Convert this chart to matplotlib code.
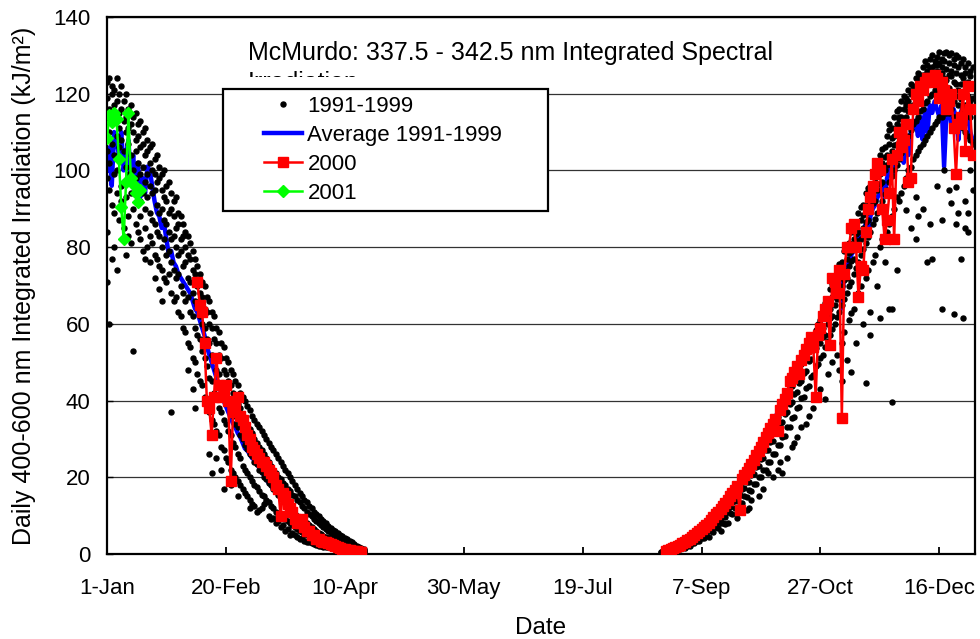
import matplotlib
matplotlib.use('Agg')
import matplotlib.pyplot as plt
from matplotlib.patches import Rectangle

plt.rcParams['font.family'] = ['Liberation Sans', 'DejaVu Sans']

# ---------------- data ----------------
tick_days = [0, 50, 100, 150, 200, 250, 300, 350]
tick_labels = ['1-Jan', '20-Feb', '10-Apr', '30-May', '19-Jul', '7-Sep', '27-Oct', '16-Dec']
y_ticks = [0, 20, 40, 60, 80, 100, 120, 140]

title_line1 = 'McMurdo: 337.5 - 342.5 nm Integrated Spectral'
title_line2 = 'Irradiation'

# 1991-1999 daily values, one list per day (Jan-Apr starting at day 0)
dots_left_start = 0
dots_left = [
    [123, 119, 114, 105, 98, 84, 71], [124, 116, 110, 102, 95, 60], [122, 120, 112, 107, 91, 77],
    [121, 117, 113, 104, 99, 89, 80], [124, 118, 109, 100, 94, 74], [120, 115, 111, 106, 87],
    [122, 116, 108, 103, 96, 92], [118, 113, 105, 97, 85], [120, 114, 110, 101, 93, 78],
    [116, 111, 107, 99, 88, 83], [117, 112, 104, 94, 81], [114, 110, 100, 96, 90, 53],
    [115, 108, 105, 98, 86], [112, 109, 102, 95, 84], [113, 106, 99, 92, 88, 82],
    [110, 107, 101, 94, 79], [111, 104, 97, 90, 85, 77], [108, 105, 99, 93, 80],
    [106, 102, 96, 89, 83, 76], [107, 100, 94, 87, 81], [103, 99, 95, 86, 78, 72],
    [104, 97, 91, 84, 77], [101, 98, 89, 83, 75, 69], [99, 95, 90, 80, 74, 66],
    [100, 93, 87, 82, 72], [96, 92, 86, 78, 71], [97, 89, 84, 79, 73],
    [94, 90, 82, 76, 68, 37], [92, 88, 83, 74, 66], [93, 85, 80, 72, 67],
    [89, 86, 78, 73, 63], [88, 82, 79, 70, 62], [86, 83, 75, 68, 59],
    [84, 80, 76, 66, 58], [83, 78, 72, 67, 55, 48], [81, 77, 71, 63, 54],
    [79, 74, 68, 62, 51, 43], [77, 73, 66, 59, 50, 38], [75, 70, 65, 57, 47],
    [73, 68, 62, 56, 45], [71, 67, 60, 53, 44], [70, 64, 59, 51, 41],
    [67, 63, 56, 49, 40], [66, 60, 55, 46, 37, 26], [63, 59, 52, 45, 35, 21],
    [62, 56, 51, 42, 34], [59, 55, 48, 41, 32, 25], [58, 52, 47, 38, 31],
    [55, 51, 44, 37, 28, 22], [54, 48, 43, 35, 27, 17], [51, 47, 40, 34, 25],
    [50, 45, 39, 32, 24], [48, 44, 37, 31, 22, 18], [47, 42, 36, 29, 21],
    [45, 41, 34, 28, 20], [44, 39, 33, 26, 19, 15], [42, 38, 31, 25, 18],
    [41, 36, 30, 23, 17], [40, 35, 28.5, 22, 16], [38.5, 33.5, 27.5, 21, 15],
    [37.5, 32.5, 26, 20, 14, 12], [36, 31.5, 25.5, 19, 13], [35, 30, 24, 18, 12.5],
    [34, 29, 23.5, 17.5, 11], [33, 28, 22, 16.5, 11.5], [32, 27, 21.5, 15.5, 12],
    [31, 26, 20, 15, 13], [30, 25, 19.5, 14, 13.5], [29, 24, 18.5, 13.5, 10],
    [28, 23, 18, 12.5, 9], [27, 22, 17, 12, 9.5], [26, 21, 16.5, 11, 8],
    [25, 20, 15.5, 10.5, 8.5], [24, 19.5, 15, 10, 7], [23, 18.5, 14, 9.5, 7.5],
    [22, 18, 13.5, 9, 6], [21, 17, 12.5, 8.5, 6.5], [20, 16.5, 12, 8, 5],
    [19, 15.5, 11, 7.5, 5.5], [18, 15, 10.5, 7, 5], [17, 14, 10, 6.5, 4.5],
    [16, 13.5, 9.5, 6, 4], [15, 12.5, 9, 5.8, 4.2], [14, 12, 8.5, 5.5, 3.5],
    [13.5, 11, 8, 5, 3.2], [12.5, 10.5, 7.5, 4.6, 3], [12, 9.8, 7, 4.2, 2.8],
    [11, 9.2, 6.4, 4, 2.6], [10.5, 8.6, 6, 3.8, 2.4], [9.8, 8, 5.5, 3.5, 2.2],
    [9.2, 7.5, 5.2, 3.2, 2], [8.5, 7, 4.8, 3, 1.9], [8, 6.5, 4.5, 2.8, 1.8],
    [7.4, 6, 4.2, 2.6, 1.7], [6.9, 5.6, 3.9, 2.4, 1.6], [6.3, 5.2, 3.6, 2.2, 1.5],
    [5.9, 4.8, 3.3, 2, 1.4], [5.4, 4.4, 3, 1.9, 1.3], [5, 4.1, 2.8, 1.8, 1.2],
    [4.6, 3.7, 2.6, 1.7, 1.1], [4.2, 3.4, 2.4, 1.6, 1], [3.8, 3.1, 2.2, 1.5, 0.9],
    [3.4, 2.8, 2, 1.4, 0.8], [3, 2.5, 1.8, 1.3, 0.7], [2.6, 2.2, 1.6, 1.1, 0.6],
    [2.2, 1.9, 1.4, 1, 0.5], [1.8, 1.6, 1.2, 0.9, 0.5], [1.5, 1.3, 1, 0.8, 0.4],
    [1.2, 1, 0.8, 0.6, 0.4],
]

# 1991-1999 daily values, Aug-Dec starting at day 233
dots_right_start = 233
dots_right = [
    [0.6, 0.4], [0.8, 0.5], [0.9, 0.6], [1.1, 0.7, 0.5], [1.2, 1.0, 0.6],
    [1.5, 1.0, 0.8], [1.7, 1.4, 0.9], [2.1, 1.5, 1.2], [2.3, 1.9, 1.2], [2.7, 2.0, 1.6],
    [3.0, 2.5, 1.6], [3.5, 2.7, 2.1], [3.8, 3.2, 2.2], [4.3, 3.4, 2.8], [4.7, 4.0, 2.8],
    [5.3, 4.2, 3.5], [5.7, 4.8, 3.4], [6.3, 5.1, 4.3], [6.8, 5.8, 4.1], [7.4, 6.0, 5.2],
    [7.9, 6.8, 4.4], [8.6, 7.0, 6.0], [9.2, 7.9, 5.8], [10.0, 8.2, 7.0], [10.6, 9.1, 6.9],
    [11.4, 9.4, 6.0, 8.2], [12.1, 10.5, 8.0], [13.0, 10.8, 7.8, 9.6], [13.7, 12.0, 8.0], [14.6, 12.2, 10.6],
    [15.3, 13.6, 10.3], [16.3, 13.8, 11.9], [17.1, 15.3, 11.7, 9.5], [18.1, 15.4, 13.3], [18.9, 17.0, 13.2],
    [20.0, 17.1, 15.0], [20.9, 18.8, 14.8, 11.5], [22.0, 18.9, 16.6, 12], [22.9, 20.7, 16.4, 14], [24.0, 20.8, 18.3],
    [25.0, 22.7, 18.2], [26.2, 22.9, 20.1, 15], [27.2, 24.8, 20.0], [28.5, 25.0, 22.0, 17], [29.5, 27.0, 22.0],
    [30.8, 27.2, 24.0, 21], [31.9, 29.3, 24.0], [33.2, 29.5, 26.1, 20], [34.3, 31.6, 26.2], [35.7, 32.0, 28.3, 22],
    [36.9, 34.0, 28.4, 24], [38.3, 34.4, 30.6, 21], [39.5, 36.5, 30.8], [41.0, 37.0, 33.0, 25], [42.3, 39.1, 33.2],
    [43.8, 39.6, 35.4, 28], [45.1, 41.8, 35.7, 29], [46.6, 42.3, 38.0, 30.5], [48.0, 44.5, 38.3], [49.5, 45.1, 40.6, 33],
    [50.9, 47.3, 41.0], [52.5, 47.8, 43.4, 34], [53.9, 50.2, 43.8, 36], [55.5, 50.8, 46.2], [56.9, 53.1, 46.6, 38],
    [58.5, 53.8, 49.0], [60.0, 56.1, 49.5, 41],
    [61, 58.5, 55, 51, 43], [64, 59, 56.5, 52], [65.5, 62, 57, 54, 40.4], [66, 63.5, 60, 55.5, 47],
    [69, 64, 61.5, 57], [70.5, 67, 62, 58.6, 50], [71, 68.5, 65, 60], [74, 69, 66.5, 61.8, 52],
    [75.5, 72, 67, 63, 48], [76, 73.5, 70, 65, 45, 55], [79, 74, 71.5, 66.6, 58], [80.5, 77, 72, 68, 50.6],
    [81, 78.5, 75, 70, 61], [84, 79, 76.5, 71, 62.8, 47.5], [85.5, 82, 77, 73, 64], [86, 83.5, 80, 74.6, 55, 67],
    [89, 84, 81.5, 76, 68], [90.5, 87, 82, 78, 70], [91, 88.5, 85, 79.4, 60], [94, 89, 86.5, 81, 44.6, 72],
    [95.5, 92, 87, 82.6, 74], [96, 93.5, 90, 84, 57, 63], [99, 94, 91.5, 86, 76], [100.5, 97, 92, 87.4, 78],
    [101, 98.5, 95, 89, 70], [104, 99, 96.5, 90.6, 61.5, 80], [105.5, 102, 97, 92, 82], [106, 103.5, 100, 93.8, 76],
    [109, 104, 101.5, 95, 84], [110.5, 107, 102, 97, 64, 86, 112], [111, 108.5, 105, 98.5, 39.6, 64, 88],
    [114, 109, 106.5, 100, 90], [115.5, 112, 107, 101.5, 93, 74], [116, 113.5, 110, 103, 92, 114],
    [118, 114, 111.5, 104.5, 94], [119.5, 116, 112, 106, 96], [119, 117.5, 114, 107.5, 89.7, 98, 117],
    [121, 118, 115.5, 109, 100], [122.5, 120, 116, 110.5, 101, 85], [122, 120.5, 117, 112, 103],
    [124, 121, 118.5, 113, 82, 93, 104], [125.5, 122, 119, 114, 105, 88], [125, 123.5, 120, 115.5, 106],
    [127, 124, 121.5, 116, 107, 90, 125], [128.5, 125, 122, 117.5, 108], [127.5, 126, 123.5, 118, 76, 109],
    [129, 126.5, 124, 119.5, 86, 110, 125], [130, 127, 122.5, 120, 77, 111], [128.5, 127.5, 125, 121, 112],
    [129.5, 126, 123, 127.5, 113, 96], [131, 128, 124.5, 122, 114], [129, 127, 125.5, 122.5, 64, 87, 114],
    [130.5, 128.5, 124, 121, 115, 100], [131, 126.5, 123.5, 119, 115], [130, 128, 125, 121.5, 95, 115],
    [130.6, 126, 124.5, 120, 91.5, 116], [129, 127.5, 123, 118, 62.5, 114], [130, 125.5, 122.5, 119.5, 86, 95.7, 114],
    [129.6, 127, 121, 117, 89, 113], [128, 125, 122.5, 118.5, 77, 112], [129, 124, 120, 116, 61.5, 111],
    [127, 125.5, 121, 117, 85, 92, 110], [128, 123, 119.5, 115, 84, 89, 109], [126, 124.5, 118, 114, 100, 108],
    [127, 122, 119, 95, 107],
]

# Average 1991-1999
avg_left_start = 0
avg_left = [100, 106, 96, 110, 108, 104, 110, 100, 104, 108, 98, 104, 96, 102, 93, 98, 94, 101,
            100, 96, 92, 89, 88, 85, 86, 82, 78, 79, 76, 75, 73, 72, 71, 70, 69, 68, 66, 64, 63, 61,
            59, 57, 54, 52, 50, 48, 46, 44, 42, 40, 38.5, 37, 35.5, 34, 33, 31.5, 30.5, 29, 27.5, 27,
            26, 25, 24.5, 23.5, 22.5, 21.5, 20.5, 19.5, 18.5, 17.8, 17, 16.2, 15.5, 14.6, 13.8, 13,
            12.2, 11.5, 10.8, 10.1, 9.5, 8.9, 8.3, 7.7, 7.1, 6.6, 6.1, 5.6, 5.2, 4.8, 4.4, 4.0, 3.7,
            3.4, 3.1, 2.8, 2.5, 2.3, 2.1, 1.9, 1.7, 1.5, 1.3, 1.1, 1.0, 0.9, 0.8, 0.7]
avg_right_start = 236
avg_right = [1.0, 1.3, 1.6, 1.9, 2.2, 2.6, 3.0, 3.4, 3.8, 4.2, 4.7, 5.2, 5.7, 6.2, 6.8, 7.4, 8.0, 8.6,
             9.3, 10.0, 10.7, 11.4, 12.2, 13.0, 13.8, 14.6, 15.4, 16.3, 17.2, 18.1, 19.0, 20.0, 21.0,
             22.0, 23.0, 24.0, 25.0, 26.1, 27.2, 28.4, 29.6, 30.8, 32.0, 33.2, 34.4, 35.6, 36.9, 38.2,
             39.5, 40.8, 42.1, 43.4, 44.7, 46.0, 47.3, 48.6, 50, 51, 52.5, 54, 55, 56.5, 58, 59, 60.5,
             62, 63, 64.5, 66, 67, 68.5, 70, 71, 64, 73.5, 75, 76, 78, 79, 80.5, 82, 83, 84, 86, 84,
             88, 90, 91, 93, 94, 96, 93, 98, 100, 101, 99, 103, 104, 106, 102, 108, 104, 110, 111, 113,
             109, 114, 108, 116, 110, 117, 115, 118, 116, 114, 117, 101, 115, 117, 112, 116, 114, 108,
             115, 117, 112, 115, 110, 108]

# 2000
y2000_left_start = 38
y2000_left = [71, 65, 63, 55, 40, 38, 31, 41, 51, 44, 41, 42, 44, 40, 19, 37, 38, 41, 36, 35, 33, 31,
              30, 28, 27, 26, 25, 24, 24, 23, 22, 21, 20, 18, 17, 10, 16, 15, 13, 12, 11, 9, 8, 8, 9,
              7, 6, 6, 5, 5, 4, 4, 3.5, 3.2, 3, 2.8, 2.5, 2.3, 2, 1.8, 1.6, 1.4, 1.3, 1.1, 1, 0.9, 0.8,
              0.7, 0.6, 0.5]
y2000_right_start = 235
y2000_right = [0.8, 1.0, 1.2, 1.5, 1.8, 2.1, 2.4, 2.8, 3.2, 3.6, 4.0, 4.4, 4.9, 5.4, 5.9, 6.4, 7.0, 7.6,
               8.2, 8.9, 9.6, 10.3, 11.0, 11.8, 12.6, 13.4, 14.2, 15.0, 15.9, 16.8, 17.7, 11.5, 19.5,
               20.5, 21.5, 22.5, 23.5, 24.6, 25.7, 26.8, 28.0, 29.2, 30.4, 31.6, 32.8, 34.0, 35.2, 32,
               37.5, 39.0, 40.5, 42.0, 45, 46, 47.5, 49, 47, 50.5, 52, 53.5, 55, 56.6, 54, 41, 57, 59,
               62, 64, 66, 54.5, 72, 71, 68, 74, 35.4, 73, 80, 80, 85, 86, 80, 67, 75, 74, 84, 90, 93,
               96, 99, 102, 100, 90, 82, 87, 94, 103, 82, 104, 110, 106, 108, 112, 97, 98, 116, 120,
               118, 122, 121, 123, 124, 124, 123, 125, 124, 119, 123, 121, 116, 118, 120, 111, 99, 112,
               114, 120, 105, 122, 116, 104]

# 2001
y2001_start = 0
y2001 = [108.5, 114.5, 112.5, 115, 113.5, 103, 90.5, 82, 97, 115, 98, 96.5, 94, 91.8, 95]

# ---------------- figure ----------------
fig = plt.figure(figsize=(9.8, 6.39), dpi=100)
L, R, B, T = 107 / 980, 975 / 980, 1 - 554 / 639, 1 - 17 / 639
ax = fig.add_axes([L, B, R - L, T - B])

def flatten(start, lists):
    xs, ys = [], []
    for i, vals in enumerate(lists):
        for v in vals:
            xs.append(start + i)
            ys.append(v)
    return xs, ys

dl_x, dl_y = flatten(dots_left_start, dots_left)
dr_x, dr_y = flatten(dots_right_start, dots_right)

ax.plot(range(avg_left_start, avg_left_start + len(avg_left)), avg_left,
        color='#0000FF', lw=3.2, zorder=2, label='Average 1991-1999')
ax.plot(range(avg_right_start, avg_right_start + len(avg_right)), avg_right,
        color='#0000FF', lw=3.2, zorder=2)

ax.plot(dl_x + dr_x, dl_y + dr_y, linestyle='none', marker='o', ms=3.6,
        color='black', zorder=3, label='1991-1999')

ax.plot(range(y2000_left_start, y2000_left_start + len(y2000_left)), y2000_left,
        color='#FF0000', lw=1.8, marker='s', ms=7, zorder=4, label='2000')
ax.plot(range(y2000_right_start, y2000_right_start + len(y2000_right)), y2000_right,
        color='#FF0000', lw=1.8, marker='s', ms=7, zorder=4)

ax.plot(range(y2001_start, y2001_start + len(y2001)), y2001,
        color='#00FF00', lw=1.8, marker='D', ms=6, zorder=5, label='2001')

ax.set_xlim(0, 365)
ax.set_ylim(0, 140)
ax.set_xticks(tick_days)
ax.set_xticklabels(tick_labels)
ax.set_yticks(y_ticks)
ax.yaxis.grid(True, color='#333333', lw=0.9)
ax.set_axisbelow(True)
for s in ax.spines.values():
    s.set_linewidth(1.6)
    s.set_color('black')
ax.tick_params(axis='x', direction='in', length=5, width=1.3, labelsize=16, pad=17)
ax.tick_params(axis='y', direction='in', length=4, width=1.0, labelsize=16, pad=12)
ax.set_xlabel('Date', fontsize=17.5, labelpad=13)
ax.set_ylabel('Daily 400-600 nm Integrated Irradiation (kJ/m²)', fontsize=18, labelpad=12)

ax.text(0.1625, 0.92, title_line1, transform=ax.transAxes, fontsize=18, va='baseline', zorder=6)
ax.text(0.1625, 0.8641, title_line2, transform=ax.transAxes, fontsize=18, va='baseline', zorder=6)
ax.add_patch(Rectangle((0.155, 0.866), 0.45, 0.0223, transform=ax.transAxes,
                       facecolor='white', edgecolor='none', zorder=7))
ax.add_patch(Rectangle((0.1336, 0.6387), 0.3744, 0.2272, transform=ax.transAxes,
                       facecolor='white', edgecolor='black', lw=1.6, zorder=7))

handles, labels = ax.get_legend_handles_labels()
order = ['1991-1999', 'Average 1991-1999', '2000', '2001']
hmap = dict(zip(labels, handles))
leg = ax.legend([hmap[k] for k in order], order, loc='upper left', bbox_to_anchor=(0.1785, 0.857),
                frameon=False, fontsize=16, numpoints=1, handlelength=1.7, handletextpad=0.25,
                labelspacing=0.36, borderpad=0.1, borderaxespad=0)
leg.set_zorder(8)

fig.savefig('out.png', dpi=100)
